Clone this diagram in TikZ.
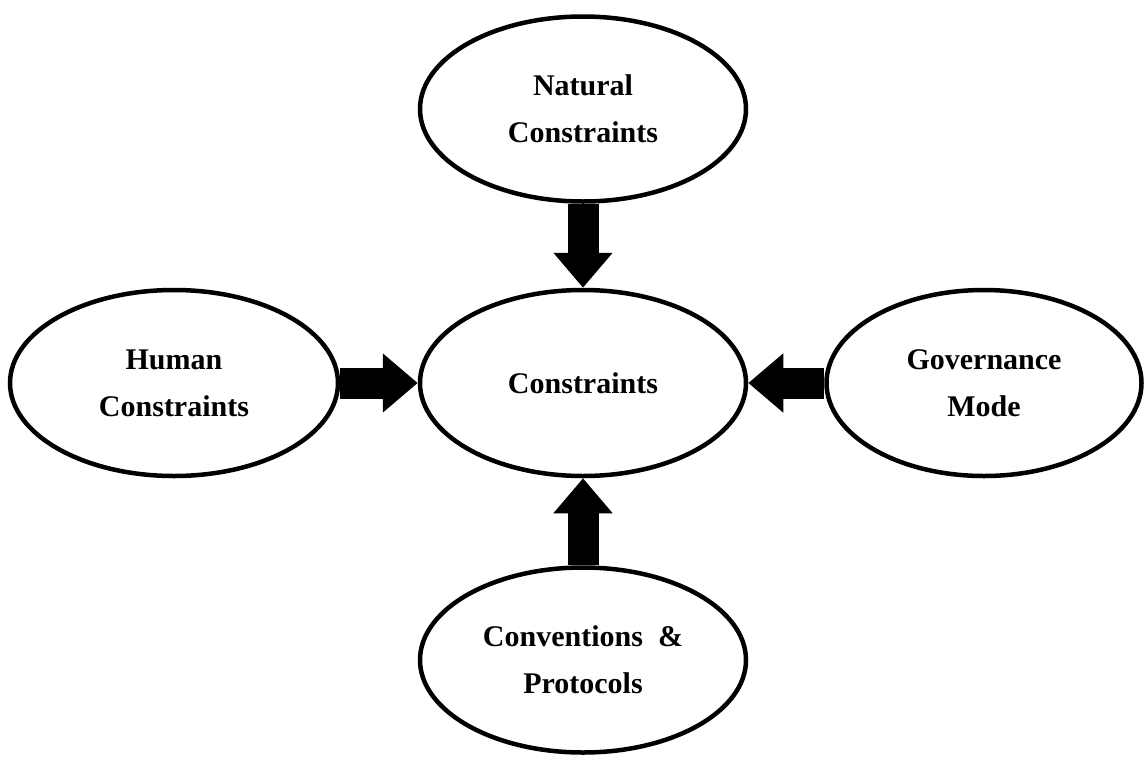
\documentclass[tikz,border=0pt]{standalone}
\usepackage{fontspec}
\setmainfont{Liberation Serif}
\usetikzlibrary{shapes.geometric,arrows.meta}
\begin{document}
\begin{tikzpicture}[x=1pt,y=-1pt,
  oval/.style={ellipse, draw=black, line width=4.5pt, fill=white, inner sep=0pt,
    align=center, font=\fontsize{30}{47}\selectfont\bfseries},
  blockarrow/.style={line width=31pt, draw=black,
    -{Triangle[width=57pt,length=35pt]}}]
\useasboundingbox (0,0) rectangle (1146,761);
\fill[white] (0,0) rectangle (1146,761);
\node[oval, minimum width=326pt, minimum height=185pt] (top) at (583,109) {Natural\\Constraints};
\node[oval, minimum width=326pt, minimum height=186pt] (mid) at (583,383) {Constraints};
\node[oval, minimum width=328pt, minimum height=186pt] (left) at (174,383) {Human\\Constraints};
\node[oval, minimum width=315pt, minimum height=186pt] (right) at (984,383) {Governance\\Mode};
\node[oval, minimum width=326pt, minimum height=185pt] (bot) at (583,660) {Conventions\ \ \&\\Protocols};
\draw[blockarrow] (top.south) -- (mid.north);
\draw[blockarrow] (left.east) -- (mid.west);
\draw[blockarrow] (right.west) -- (mid.east);
\draw[blockarrow] (bot.north) -- (mid.south);
\end{tikzpicture}
\end{document}
